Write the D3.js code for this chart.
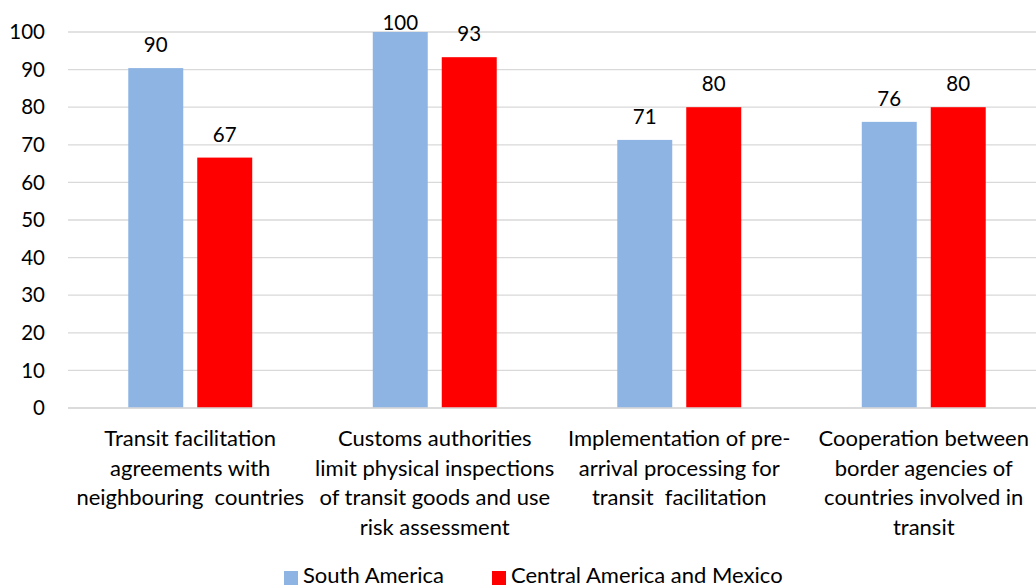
<!DOCTYPE html>
<html><head><meta charset="utf-8">
<script src="https://cdn.jsdelivr.net/npm/d3@7"></script>
<style>body{margin:0;background:#fff;} text{font-family:Lato,"Open Sans",sans-serif;}</style>
</head><body><svg id="c" width="1036" height="588"></svg>
<script>
const categories = [
  ["Transit facilitation","agreements with","neighbouring  countries"],
  ["Customs authorities","limit physical inspections","of transit goods and use","risk assessment"],
  ["Implementation of pre-","arrival processing for","transit  facilitation"],
  ["Cooperation between","border agencies of","countries involved in","transit"]
];
const seriesNames = ["South America","Central America and Mexico"];
const southAmerica = [90.4, 100, 71.3, 76.1];
const centralAmerica = [66.6, 93.3, 80, 80];
const labelsSA = ["90","100","71","76"];
const labelsCA = ["67","93","80","80"];
const yTicks = [0,10,20,30,40,50,60,70,80,90,100];
const colors = ["#8EB4E3","#FF0000"];

const svg = d3.select("#c");
const y = d3.scaleLinear().domain([0,100]).range([408,32]);
const x0 = d3.scaleBand().domain(d3.range(4)).range([68,1046]).paddingInner(0.493).paddingOuter(0.2465);
const x1 = d3.scaleBand().domain([0,1]).range([0,x0.bandwidth()]).paddingInner(0.203);

svg.append("g").selectAll("line").data(yTicks).join("line")
  .attr("x1",68).attr("x2",1036).attr("y1",d=>y(d)).attr("y2",d=>y(d))
  .attr("stroke","#D9D9D9").attr("stroke-width",1.3);
svg.append("g").selectAll("text").data(yTicks).join("text")
  .attr("x",45).attr("y",d=>y(d)).attr("dy","0.35em").attr("text-anchor","end")
  .attr("font-size",20.5).attr("fill","#000").text(d=>d);

const series = [southAmerica, centralAmerica];
const labels = [labelsSA, labelsCA];
series.forEach((vals,s)=>{
  const g = svg.append("g");
  g.selectAll("rect").data(vals).join("rect")
    .attr("x",(d,i)=>x0(i)+x1(s)).attr("width",x1.bandwidth())
    .attr("y",d=>y(d)).attr("height",d=>y(0)-y(d)).attr("fill",colors[s]);
  g.selectAll("text").data(vals).join("text")
    .attr("x",(d,i)=>x0(i)+x1(s)+x1.bandwidth()/2)
    .attr("y",d=>Math.max(y(d)-16,30))
    .attr("text-anchor","middle").attr("font-size",20.5).attr("fill","#000")
    .text((d,i)=>labels[s][i]);
});
svg.append("line").attr("x1",68).attr("x2",1036).attr("y1",y(0)).attr("y2",y(0))
  .attr("stroke","#D9D9D9").attr("stroke-width",1.3);

categories.forEach((lines,i)=>{
  const cx = x0(i)+x0.bandwidth()/2;
  const t = svg.append("text").attr("text-anchor","middle").attr("font-size",22).attr("fill","#000")
    .attr("x",cx).attr("y",446).attr("xml:space","preserve");
  lines.forEach((l,j)=>t.append("tspan").attr("x",cx).attr("y",446+j*29.5).text(l));
});

const leg = [{x:284,tx:303},{x:492,tx:511}];
seriesNames.forEach((n,s)=>{
  svg.append("rect").attr("x",leg[s].x).attr("y",571).attr("width",14).attr("height",14).attr("fill",colors[s]);
  svg.append("text").attr("x",leg[s].tx).attr("y",583).attr("font-size",22).attr("fill","#000").text(n);
});
</script></body></html>
